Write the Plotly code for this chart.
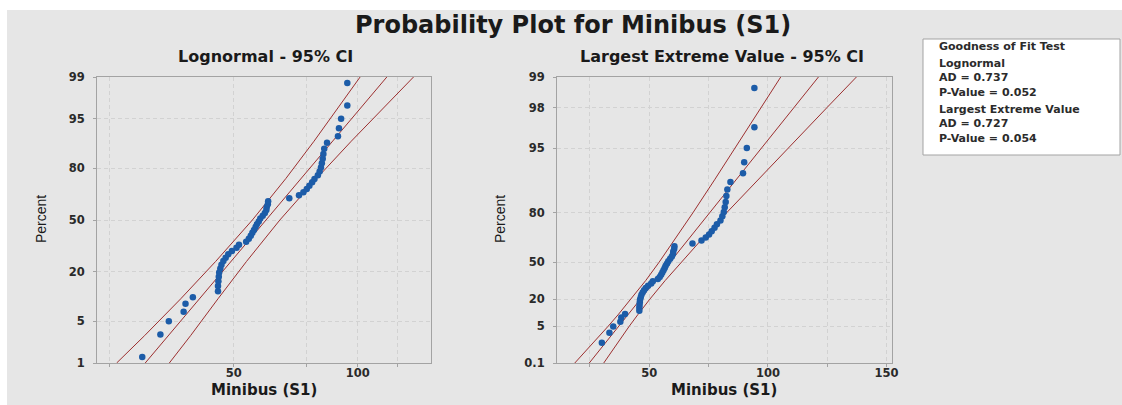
import math
from statistics import NormalDist
import plotly.graph_objects as go

W, H = 1122, 405

# ---------------- data ----------------
minibus_s1 = [30.0, 33.2, 34.8, 37.8, 38.2, 39.8, 45.8, 45.8, 45.9, 46.0,
              46.1, 46.4, 46.7, 47.2, 47.8, 48.5, 49.5, 50.8, 51.5, 53.6,
              54.4, 55.0, 55.5, 56.0, 56.5, 56.9, 57.5, 58.0, 58.8, 59.5,
              60.0, 60.1, 60.5, 60.6, 68.2, 72.0, 73.8, 75.2, 76.3, 77.5,
              78.5, 80.0, 80.8, 81.4, 81.8, 82.2, 82.5, 82.9, 84.2, 89.5,
              90.0, 91.1, 94.3, 94.3]

# Lognormal fit line and 95% CI, at these percent levels
logn_pct = [1, 3, 10, 25, 50, 75, 90, 97, 99]
logn_fit = [30.5, 34.7, 41.3, 49.3, 59.9, 72.9, 86.9, 103.4, 117.6]
logn_low = [26.0, 30.4, 37.2, 45.2, 55.5, 66.9, 78.3, 90.9, 101.3]
logn_upp = [34.9, 39.3, 45.8, 53.7, 64.7, 79.4, 96.4, 117.6, 136.5]

# Largest extreme value fit line and 95% CI
lev_pct = [0.1, 1, 5, 10, 20, 35, 50, 65, 80, 90, 95, 98, 99]
lev_fit = [24.7, 30.7, 37.1, 41.0, 46.3, 52.6, 58.7, 65.8, 75.5, 86.6, 97.2, 111.0, 121.3]
lev_low = [18.6, 25.5, 32.6, 36.8, 42.3, 48.5, 54.1, 60.2, 68.4, 77.5, 86.1, 97.1, 105.4]
lev_upp = [30.8, 35.9, 41.5, 45.1, 50.2, 56.7, 63.4, 71.3, 82.6, 95.7, 108.4, 124.9, 137.3]

# tick labels
logn_yticks = [1, 5, 20, 50, 80, 95, 99]
lev_yticks = [0.1, 5, 20, 50, 80, 95, 98, 99]
logn_xtickvals = [25, 50, 75, 100, 125]
logn_xticktext = ["", "50", "", "100", ""]
lev_xtickvals = [25, 50, 75, 100, 125, 150]
lev_xticktext = ["", "50", "", "100", "", "150"]

gof_title = "Goodness of Fit Test"
gof_logn = ["Lognormal", "AD = 0.737", "P-Value = 0.052"]
gof_lev = ["Largest Extreme Value", "AD = 0.727", "P-Value = 0.054"]

# ---------------- probability scales ----------------
nd = NormalDist()


def z_of(pct):
    return nd.inv_cdf(pct / 100.0)


def g_of(pct):
    return -math.log(-math.log(pct / 100.0))


n = len(minibus_s1)
xs = sorted(minibus_s1)
# Minitab median-rank (Benard) plotting positions
plot_pct = [(i - 0.3) / (n + 0.4) * 100.0 for i in range(1, n + 1)]

LINE_C = "#9c2f2f"
DOT_C = "#1c5ca8"
GRID_C = "#d2d2d2"
AXIS_C = "#a3a3a3"
TXT_C = "#2a2a2a"
FONT = "DejaVu Sans"

fig = go.Figure()

for xv in (logn_low, logn_fit, logn_upp):
    fig.add_trace(go.Scatter(x=xv, y=[z_of(p) for p in logn_pct], mode="lines",
                             line=dict(color=LINE_C, width=1), xaxis="x", yaxis="y",
                             hoverinfo="skip", showlegend=False))
fig.add_trace(go.Scatter(x=xs, y=[z_of(p) for p in plot_pct], mode="markers",
                         marker=dict(color=DOT_C, size=6.5), xaxis="x", yaxis="y",
                         showlegend=False))

for xv in (lev_low, lev_fit, lev_upp):
    fig.add_trace(go.Scatter(x=xv, y=[g_of(p) for p in lev_pct], mode="lines",
                             line=dict(color=LINE_C, width=1), xaxis="x2", yaxis="y2",
                             hoverinfo="skip", showlegend=False))
fig.add_trace(go.Scatter(x=xs, y=[g_of(p) for p in plot_pct], mode="markers",
                         marker=dict(color=DOT_C, size=6.5), xaxis="x2", yaxis="y2",
                         showlegend=False))


def px(v):
    return v / W


def py(v):
    return 1 - v / H


common = dict(showgrid=True, gridcolor=GRID_C, griddash="4px,3px", gridwidth=1,
              showline=True, linecolor=AXIS_C, linewidth=1, mirror=True,
              ticks="outside", ticklen=3, tickcolor=AXIS_C, zeroline=False,
              tickfont=dict(family=FONT, size=11.5, color=TXT_C, weight="bold"),
              fixedrange=True)

ydom = [py(363), py(77)]

fig.update_layout(
    width=W, height=H,
    margin=dict(l=0, r=0, t=0, b=0, autoexpand=False),
    paper_bgcolor="white", plot_bgcolor="white",
    showlegend=False,
    xaxis=dict(type="log", domain=[px(97), px(431)], anchor="y",
               range=[math.log10(23.3), math.log10(150.5)],
               tickmode="array", tickvals=logn_xtickvals, ticktext=logn_xticktext,
               ticklabelstandoff=-4, **common),
    yaxis=dict(domain=ydom, anchor="x", range=[z_of(1), z_of(99)],
               tickmode="array", tickvals=[z_of(p) for p in logn_yticks],
               ticktext=[str(p) for p in logn_yticks], ticklabelstandoff=6, **common),
    xaxis2=dict(domain=[px(557), px(892)], anchor="y2", range=[11.1, 152.3],
                tickmode="array", tickvals=lev_xtickvals, ticktext=lev_xticktext,
                ticklabelstandoff=-4, **common),
    yaxis2=dict(domain=ydom, anchor="x2", range=[g_of(0.1), g_of(99)],
                tickmode="array", tickvals=[g_of(p) for p in lev_yticks],
                ticktext=[("%g" % p) for p in lev_yticks], ticklabelstandoff=6, **common),
)

shapes = [
    dict(type="rect", xref="paper", yref="paper", x0=px(7), x1=1, y0=0, y1=py(10),
         fillcolor="#e6e6e6", line=dict(width=0), layer="below"),
    dict(type="rect", xref="paper", yref="paper", x0=px(923), x1=px(1120), y0=py(155), y1=py(39),
         fillcolor="white", line=dict(color=AXIS_C, width=1), layer="above"),
]
fig.update_layout(shapes=shapes)

ann = []
ann.append(dict(text="Probability Plot for Minibus (S1)", x=px(573), y=py(25),
                font=dict(family=FONT, size=24, color="#1a1a1a", weight="bold")))
ann.append(dict(text="Lognormal - 95% CI", x=px(265), y=py(57),
                font=dict(family=FONT, size=16, color="#1a1a1a", weight="bold")))
ann.append(dict(text="Largest Extreme Value - 95% CI", x=px(722), y=py(57),
                font=dict(family=FONT, size=16, color="#1a1a1a", weight="bold")))
for cx in (264, 724):
    ann.append(dict(text="Minibus (S1)", x=px(cx), y=py(390),
                    font=dict(family=FONT, size=15, color="#1a1a1a", weight="bold")))
for cx in (41, 500):
    ann.append(dict(text="Percent", x=px(cx), y=py(219), textangle=-90,
                    font=dict(family="Liberation Sans", size=14, color="#1a1a1a")))

GOF_FONT = dict(family=FONT, size=11, color="#2b2b2b", weight="bold")
ann.append(dict(text=gof_title, x=px(937), y=py(46), xanchor="left", font=GOF_FONT))
ann.append(dict(text="<br>".join(gof_logn), x=px(937), y=py(78), xanchor="left",
                align="left", font=GOF_FONT))
ann.append(dict(text="<br>".join(gof_lev), x=px(937), y=py(124.5), xanchor="left",
                align="left", font=GOF_FONT))

for a in ann:
    a.setdefault("xref", "paper")
    a.setdefault("yref", "paper")
    a.setdefault("showarrow", False)
    a.setdefault("xanchor", "center")
    a.setdefault("yanchor", "middle")
fig.update_layout(annotations=ann)

# remove the browser's default 8px body margin so the figure fills the window
fig.write_html(
    "out.html",
    config={"displayModeBar": False},
    post_script=("document.body.style.margin='0px';"
                 "document.documentElement.style.overflow='hidden';"
                 "document.body.style.overflow='hidden';"),
)
